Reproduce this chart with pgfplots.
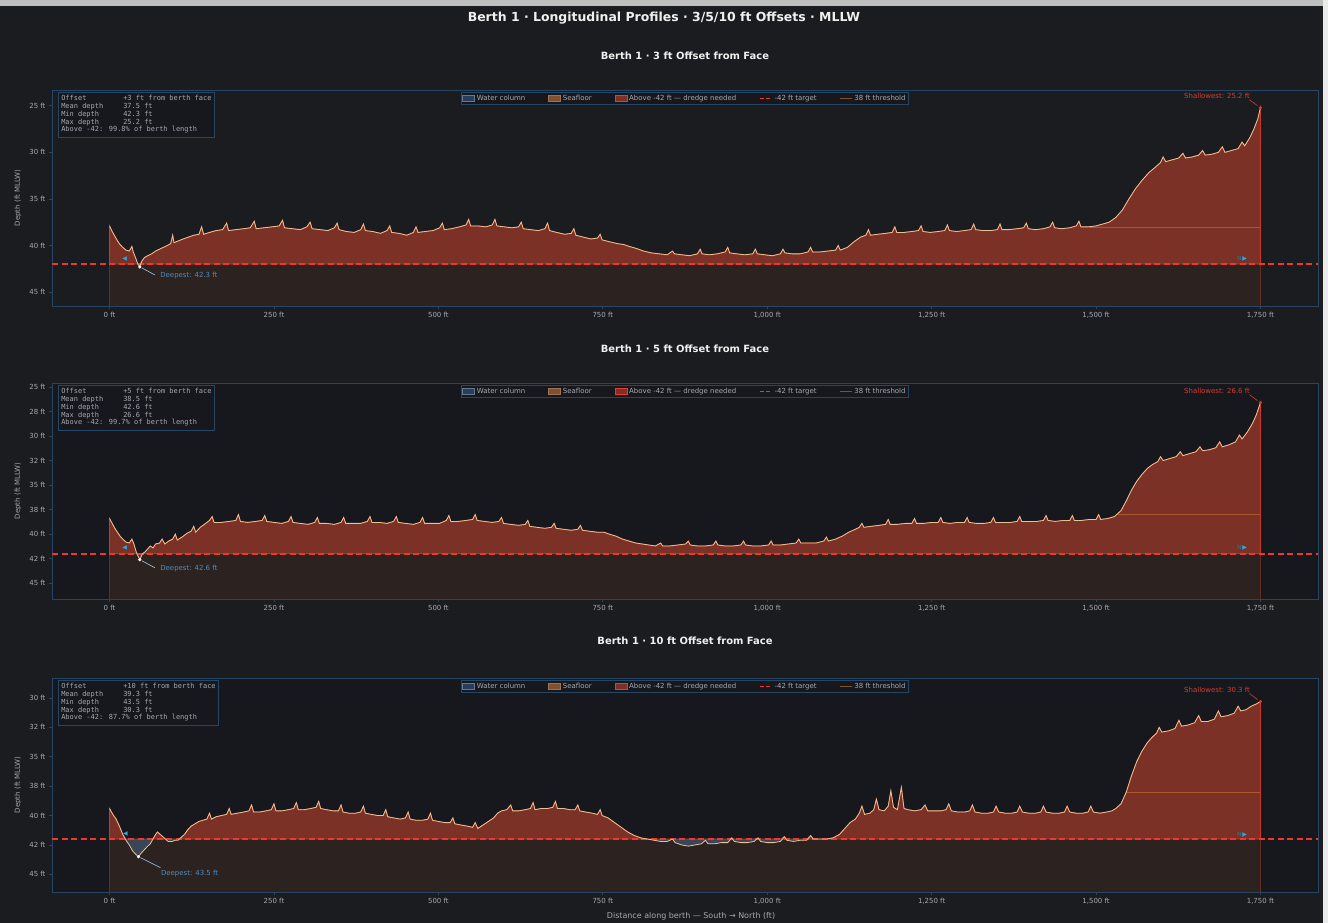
\documentclass[border=0pt]{standalone}
\usepackage{fontspec}
\setmainfont{DejaVu Sans}
\newfontfamily\monofont{DejaVu Sans Mono}
\usepackage{pgfplots}
\usepackage{pgfplotstable}
\pgfplotsset{compat=1.18}
\usepgfplotslibrary{fillbetween}

\definecolor{figbg}{RGB}{27,28,32}
\definecolor{axbg}{RGB}{22,24,29}
\definecolor{frame}{RGB}{38,70,100}
\definecolor{tickt}{RGB}{165,170,176}
\definecolor{titlec}{RGB}{240,240,240}
\definecolor{dredge}{RGB}{124,49,38}
\definecolor{dredgeedge}{RGB}{205,55,42}
\definecolor{seab}{RGB}{44,34,31}
\definecolor{seabedge}{RGB}{100,45,36}
\definecolor{waterc}{RGB}{58,70,86}
\definecolor{seaf}{RGB}{228,196,150}
\definecolor{tgtred}{RGB}{240,55,45}
\definecolor{thr}{RGB}{230,140,60}
\definecolor{deepc}{RGB}{80,140,190}
\definecolor{shalc}{RGB}{215,60,50}
\definecolor{navc}{RGB}{40,170,225}
\definecolor{legwater}{RGB}{40,62,92}
\definecolor{legsea}{RGB}{130,80,45}

\pgfplotstableread{
x d
0 37.9
4 38.5
8 39.0
12 39.5
16 39.9
20 40.2
25 40.5
30 40.6
34 40.1
36 40.7
40 41.4
43 42.0
46 42.3
49 41.7
53 41.3
58 41.1
64 40.9
70 40.6
76 40.4
82 40.2
88 40.0
93 39.8
96 38.9
98 39.7
105 39.5
112 39.3
120 39.1
128 38.9
136 38.8
140 38.0
143 38.8
152 38.6
162 38.4
172 38.3
178 37.6
181 38.4
192 38.3
204 38.2
214 38.1
220 37.4
223 38.2
235 38.1
247 38.0
258 37.9
263 37.3
266 38.1
278 38.2
290 38.3
300 38.0
305 37.5
308 38.2
320 38.3
332 38.4
342 38.1
346 37.6
349 38.3
360 38.5
372 38.6
382 38.3
386 37.7
389 38.4
400 38.5
412 38.7
422 38.4
426 37.9
429 38.6
440 38.7
452 38.9
462 38.6
466 38.0
469 38.6
480 38.5
492 38.4
502 38.1
506 37.6
509 38.3
520 38.2
532 38.0
542 37.8
546 37.2
549 37.9
560 37.9
572 38.0
582 37.8
586 37.2
589 37.9
600 38.0
612 38.1
622 38.0
626 37.5
629 38.2
640 38.3
652 38.4
662 38.2
666 37.6
669 38.4
680 38.6
692 38.8
702 38.7
706 38.2
709 38.9
720 39.1
732 39.3
742 39.2
746 38.8
749 39.4
760 39.6
772 39.8
782 39.9
790 40.1
800 40.3
812 40.6
824 40.8
836 40.9
848 41.0
856 40.6
859 40.9
870 41.0
882 41.1
894 40.9
898 40.4
901 40.9
912 41.0
924 40.9
936 40.7
940 40.2
943 40.8
954 40.9
966 41.0
978 40.9
982 40.4
985 40.9
996 41.0
1008 41.1
1020 40.9
1024 40.4
1027 40.8
1038 40.9
1050 40.9
1062 40.7
1066 40.2
1069 40.7
1080 40.7
1092 40.6
1104 40.5
1108 40.0
1111 40.5
1122 40.2
1132 39.6
1142 39.1
1150 38.9
1154 38.3
1157 38.9
1168 38.8
1180 38.7
1190 38.6
1194 38.0
1197 38.6
1208 38.6
1220 38.5
1230 38.4
1234 37.9
1237 38.5
1248 38.6
1260 38.5
1270 38.4
1274 37.8
1277 38.4
1288 38.5
1300 38.4
1310 38.3
1314 37.7
1317 38.3
1328 38.4
1340 38.4
1350 38.3
1354 37.7
1357 38.3
1368 38.3
1380 38.2
1390 38.1
1394 37.6
1397 38.2
1408 38.3
1420 38.2
1430 38.0
1434 37.5
1437 38.1
1448 38.2
1460 38.1
1470 37.9
1474 37.4
1477 38.0
1488 38.0
1500 37.9
1510 37.7
1520 37.5
1530 37.0
1540 36.2
1550 35.0
1560 33.9
1570 33.0
1580 32.2
1590 31.6
1598 31.1
1602 30.5
1606 31.0
1616 30.8
1626 30.6
1632 30.1
1636 30.6
1646 30.5
1656 30.3
1662 29.8
1666 30.3
1676 30.2
1686 30.0
1692 29.4
1696 30.0
1706 29.8
1716 29.6
1722 28.9
1726 29.3
1734 28.4
1740 27.5
1746 26.4
1750 25.2
}\pA

\pgfplotstableread{
x d
0 38.4
4 38.9
8 39.4
12 39.8
16 40.2
20 40.5
25 40.8
30 40.9
34 40.5
37 41.0
41 41.9
46 42.6
50 42.0
54 41.8
58 41.5
62 41.2
66 41.4
70 41.0
76 40.9
80 40.5
84 41.0
90 40.7
96 40.5
100 40.0
103 40.6
110 40.3
118 39.9
124 39.7
128 39.2
131 39.8
138 39.3
146 38.9
152 38.6
156 38.2
159 38.8
170 38.8
182 38.7
192 38.6
196 38.0
199 38.7
210 38.8
222 38.7
232 38.6
236 38.1
239 38.7
250 38.8
262 38.9
272 38.7
276 38.2
279 38.8
290 38.9
302 39.0
312 38.8
316 38.3
319 38.9
330 38.9
342 39.0
352 38.8
356 38.3
359 38.9
370 38.9
382 38.9
392 38.7
396 38.2
399 38.8
410 38.8
422 38.9
432 38.7
436 38.2
439 38.8
450 38.9
462 39.0
472 38.8
476 38.3
479 38.9
490 38.9
502 38.9
512 38.6
516 38.1
519 38.7
530 38.7
542 38.6
552 38.5
556 38.0
559 38.6
570 38.7
582 38.8
592 38.7
596 38.3
599 38.9
610 39.0
622 39.1
632 39.0
636 38.6
639 39.2
650 39.3
662 39.4
672 39.3
676 38.9
679 39.4
690 39.5
702 39.6
712 39.5
716 39.1
719 39.6
730 39.7
742 39.8
752 39.8
760 40.0
770 40.2
780 40.5
790 40.7
800 40.9
810 41.0
820 41.1
830 41.2
838 40.9
841 41.2
852 41.2
864 41.1
876 41.0
880 40.7
883 41.1
894 41.2
906 41.2
918 41.1
922 40.7
925 41.1
936 41.2
948 41.2
960 41.1
964 40.7
967 41.1
978 41.2
990 41.2
1002 41.1
1006 40.7
1009 41.1
1020 41.1
1032 41.0
1044 40.9
1048 40.5
1051 40.9
1062 40.9
1074 40.9
1086 40.7
1090 40.3
1093 40.7
1104 40.5
1114 40.2
1124 39.8
1134 39.5
1140 39.3
1144 38.9
1147 39.3
1158 39.2
1170 39.1
1180 39.0
1184 38.5
1187 39.0
1198 39.0
1210 38.9
1220 38.9
1224 38.4
1227 38.9
1238 38.9
1250 38.8
1260 38.8
1264 38.3
1267 38.8
1278 38.9
1290 38.8
1300 38.8
1304 38.3
1307 38.8
1318 38.9
1330 38.9
1340 38.8
1344 38.3
1347 38.8
1358 38.8
1370 38.8
1380 38.7
1384 38.2
1387 38.7
1398 38.7
1410 38.7
1420 38.6
1424 38.1
1427 38.6
1438 38.7
1450 38.6
1460 38.6
1464 38.1
1467 38.6
1478 38.6
1490 38.5
1500 38.5
1504 38.0
1507 38.5
1518 38.4
1528 38.2
1538 37.6
1546 36.6
1554 35.5
1562 34.6
1570 33.9
1578 33.3
1586 32.9
1594 32.6
1598 32.1
1602 32.5
1612 32.3
1622 32.1
1628 31.6
1632 32.0
1642 31.8
1652 31.6
1658 31.1
1662 31.5
1672 31.4
1682 31.2
1688 30.6
1692 31.1
1702 30.9
1712 30.6
1718 29.9
1722 30.3
1730 29.6
1738 28.7
1744 27.8
1750 26.6
}\pB

\pgfplotstableread{
x d
0 39.4
5 39.9
10 40.3
15 40.9
20 41.6
25 42.1
30 42.5
35 43.0
40 43.3
44 43.5
48 43.2
53 42.9
58 42.6
62 42.4
66 42.0
70 41.6
73 41.4
77 41.6
81 41.8
85 42.0
89 42.2
95 42.2
100 42.1
104 42.1
108 41.9
114 41.6
119 41.2
124 40.9
130 40.7
136 40.5
142 40.4
148 40.3
152 39.8
155 40.3
162 40.1
170 40.0
178 39.9
182 39.4
185 39.9
194 39.8
204 39.7
212 39.6
216 39.1
219 39.7
228 39.7
238 39.6
246 39.5
250 39.0
253 39.6
262 39.6
272 39.5
280 39.4
284 38.9
287 39.5
296 39.5
306 39.4
314 39.3
318 38.8
321 39.4
330 39.5
340 39.6
348 39.6
352 39.1
355 39.7
364 39.8
374 39.8
382 39.7
386 39.2
389 39.8
398 39.9
408 40.0
416 40.0
420 39.5
423 40.1
432 40.2
442 40.3
450 40.2
454 39.7
457 40.3
466 40.4
476 40.4
484 40.3
488 39.8
491 40.4
500 40.5
510 40.6
518 40.6
522 40.2
525 40.7
534 40.8
544 40.9
552 41.0
556 40.6
560 41.1
568 40.8
576 40.5
584 40.2
590 39.8
596 39.6
604 39.5
610 39.1
613 39.6
622 39.6
632 39.5
640 39.4
644 38.9
647 39.5
656 39.4
666 39.4
674 39.3
678 38.8
681 39.4
690 39.4
700 39.5
708 39.5
712 39.1
715 39.6
724 39.7
734 39.8
742 39.9
746 39.5
749 40.0
758 40.2
768 40.6
778 41.0
788 41.4
798 41.7
808 41.9
818 42.0
828 42.1
838 42.2
848 42.2
856 42.0
860 42.3
870 42.5
880 42.6
890 42.5
900 42.4
906 42.1
910 42.4
920 42.4
930 42.3
940 42.3
946 41.9
950 42.2
960 42.3
970 42.3
980 42.2
986 41.9
990 42.2
1000 42.3
1010 42.3
1020 42.2
1026 41.8
1030 42.1
1040 42.2
1050 42.1
1060 42.1
1066 41.7
1070 42.0
1080 42.0
1090 42.0
1100 41.9
1110 41.6
1118 41.1
1126 40.6
1134 40.3
1140 39.8
1144 39.2
1148 39.9
1156 39.8
1162 39.5
1166 38.6
1170 39.5
1178 39.6
1184 39.2
1188 37.9
1192 39.3
1198 39.5
1204 37.6
1208 39.4
1214 39.5
1224 39.6
1234 39.5
1240 39.1
1244 39.6
1254 39.6
1264 39.6
1272 39.5
1276 39.0
1280 39.6
1290 39.7
1300 39.7
1308 39.6
1312 39.1
1316 39.7
1326 39.8
1336 39.8
1344 39.7
1348 39.2
1352 39.7
1362 39.8
1372 39.8
1380 39.7
1384 39.2
1388 39.7
1398 39.8
1408 39.8
1416 39.7
1420 39.2
1424 39.7
1434 39.8
1444 39.8
1452 39.7
1456 39.2
1460 39.7
1470 39.8
1480 39.8
1488 39.7
1492 39.2
1496 39.7
1506 39.8
1516 39.7
1524 39.6
1530 39.4
1538 39.0
1546 38.0
1554 36.6
1562 35.4
1570 34.5
1578 33.8
1586 33.3
1592 33.0
1596 32.5
1600 32.9
1610 32.8
1620 32.6
1626 31.9
1630 32.4
1640 32.3
1650 32.1
1656 31.5
1660 32.0
1670 32.0
1680 31.8
1686 31.1
1690 31.6
1700 31.5
1710 31.3
1716 30.7
1720 31.1
1728 31.0
1736 30.7
1744 30.5
1750 30.3
}\pC

\pgfplotsset{
  prof/.style={
    set layers,
    scale only axis, width=1266bp,
    xmin=-87.5, xmax=1837.5, y dir=reverse,
    axis background/.style={fill=axbg},
    axis line style={draw=frame, line width=0.9bp},
    tick style={draw=frame, line width=0.7bp},
    major tick length=3bp, tick align=outside,
    xtick pos=bottom, ytick pos=left,
    xtick={0,250,500,750,1000,1250,1500,1750},
    xticklabels={0 ft,250 ft,500 ft,750 ft,{1,000 ft},{1,250 ft},{1,500 ft},{1,750 ft}},
    ticklabel style={font=\fontsize{7}{8}\selectfont, text=tickt},
    /pgf/number format/assume math mode=true,
    ylabel={Depth (ft MLLW)},
    every axis y label/.style={at={(axis description cs:0,0.5)}, xshift=-34bp, rotate=90, anchor=center, font=\fontsize{7}{8}\selectfont, text=tickt},
    every axis x label/.style={at={(axis description cs:0.5,0)}, anchor=center, xshift=6bp, yshift=-24bp, font=\fontsize{8}{9}\selectfont, text=tickt},
    title style={at={(axis description cs:0.5,1)}, anchor=center, yshift=28bp, font=\bfseries\fontsize{10}{12}\selectfont, text=titlec},
    legend style={at={(0.5,1)}, anchor=north, yshift=-2bp, draw=frame, fill=axbg, line width=0.6bp, inner sep=1.2bp, font=\fontsize{7}{8}\selectfont, text=tickt, /tikz/every even column/.append style={column sep=21bp}, nodes={inner ysep=1.5bp}},
    legend columns=5,
    legend image post style={xscale=0.7},
  },
}
\tikzset{
  statbox/.style={anchor=north west, draw=frame, fill=axbg, line width=0.6bp, inner sep=3bp, font=\monofont\fontsize{7}{7.8}\selectfont, text=tickt, align=left},
}

\newcommand{\legendset}{%
  \addlegendimage{area legend, fill=legwater, draw=legwater!70!white}
  \addlegendentry{Water column}
  \addlegendimage{area legend, fill=legsea, draw=legsea!80!white}
  \addlegendentry{Seafloor}
  \addlegendimage{area legend, fill=dredge, draw=tgtred}
  \addlegendentry{Above -42 ft — dredge needed}
  \addlegendimage{tgtred, line width=1.4bp, dash pattern=on 4bp off 2.5bp}
  \addlegendentry{-42 ft target}
  \addlegendimage{thr, opacity=0.5, line width=0.8bp}
  \addlegendentry{38 ft threshold}
}

% #1 table, #2 x where the seafloor rises above 38 ft near the north end
\newcommand{\layers}[2]{%
  \addplot[draw=none, forget plot, name path=sea] table[x=x,y=d] {#1};
  \addplot[draw=none, forget plot, name path=seaup] table[x=x,y expr={min(\thisrow{d},42)}] {#1};
  \addplot[draw=none, forget plot, name path=seadn] table[x=x,y expr={max(\thisrow{d},42)}] {#1};
  \addplot[draw=none, forget plot, name path=tgt] coordinates {(0,42) (1750,42)};
  \addplot[draw=none, forget plot, name path=bot] coordinates {(0,48) (1750,48)};
  \addplot[fill=seab, draw=seabedge, line width=0.6bp, forget plot] fill between[of=sea and bot];
  \addplot[fill=waterc, draw=none, forget plot] fill between[of=seadn and tgt];
  \addplot[fill=dredge, draw=dredgeedge, line width=0.7bp, forget plot] fill between[of=seaup and tgt];
  \addplot[tgtred, opacity=1, line width=1.4bp, dash pattern=on 6bp off 3.5bp, forget plot] coordinates {(-87.5,42) (1837.5,42)};
  \addplot[thr, draw opacity=0.45, line width=0.6bp, forget plot] coordinates {(#2,38) (1750,38)};
  \addplot[seaf, draw opacity=1, line width=0.8bp, forget plot] table[x=x,y=d] {#1};
}

\begin{document}
\begin{tikzpicture}
\path (0,0) rectangle (1328bp,923bp);
\fill[black!25] (0,917bp) rectangle (1328bp,923bp);
\fill[black!8] (1323bp,0) rectangle (1328bp,923bp);

\node[font=\bfseries\fontsize{12.5}{14}\selectfont, text=titlec] at (664bp,905bp) {Berth 1 · Longitudinal Profiles · 3/5/10 ft Offsets · MLLW};

% ---------- Panel 1 ----------
\begin{axis}[prof, at={(52bp,617bp)}, anchor=south west, height=216bp,
  ymin=23.3, ymax=46.5, ytick={25,30,35,40,45},
  yticklabels={25 ft,30 ft,35 ft,40 ft,45 ft},
  title={Berth 1 · 3 ft Offset from Face}]
\begin{pgfonlayer}{axis background}
\fill[figbg] ([shift={(-52bp,-617bp)}]axis description cs:0,0) rectangle ([shift={(1271bp,300bp)}]axis description cs:0,0);
\end{pgfonlayer}
\layers{\pA}{1490}
\addplot[only marks, mark=*, mark size=1.4bp, white, forget plot] coordinates {(46,42.3)};
\addplot[only marks, mark=*, mark size=1.4bp, shalc, forget plot] coordinates {(1750,25.2)};
\legendset
\draw[deepc!60!white, line width=0.7bp] (axis cs:46,42.3) ++(2bp,-1bp) -- ++(13bp,-7bp);
\node[anchor=west, text=deepc, font=\fontsize{7}{8}\selectfont] at (axis cs:46,42.3) [xshift=17bp, yshift=-9bp] {Deepest: 42.3 ft};
\draw[shalc, line width=0.6bp] (axis cs:1750,25.2) ++(-3bp,2bp) -- ++(-8bp,6bp);
\node[anchor=east, text=shalc, font=\fontsize{7}{8}\selectfont] at (axis cs:1750,25.2) [xshift=-7bp, yshift=12bp] {Shallowest: 25.2 ft};
\node[text=navc, font=\fontsize{6}{6}\selectfont] at (axis cs:23,41.4) {◀};
\node[font=\fontsize{6}{6}\selectfont] at (axis cs:1722,41.4) {\textcolor{frame!50!navc}{N}\,\textcolor{navc}{▶}};
\node[statbox] at (axis description cs:0,1) [xshift=6bp, yshift=-2bp] {%
\begin{tabular}{@{}p{62bp}@{}l@{}}
Offset & +3 ft from berth face\\
Mean depth & 37.5 ft\\
Min depth & 42.3 ft\\
Max depth & 25.2 ft\\
\multicolumn{2}{@{}l@{}}{Above -42: 99.8\% of berth length}
\end{tabular}};
\end{axis}

% ---------- Panel 2 ----------
\begin{axis}[prof, at={(52bp,324bp)}, anchor=south west, height=216bp,
  ymin=24.6, ymax=46.6, ytick={25,27.5,30,32.5,35,37.5,40,42.5,45},
  yticklabels={25 ft,28 ft,30 ft,32 ft,35 ft,38 ft,40 ft,42 ft,45 ft},
  title={Berth 1 · 5 ft Offset from Face}]
\layers{\pB}{1533}
\addplot[only marks, mark=*, mark size=1.4bp, white, forget plot] coordinates {(46,42.6)};
\addplot[only marks, mark=*, mark size=1.4bp, shalc, forget plot] coordinates {(1750,26.6)};
\legendset
\draw[deepc!60!white, line width=0.7bp] (axis cs:46,42.6) ++(2bp,-1bp) -- ++(13bp,-7bp);
\node[anchor=west, text=deepc, font=\fontsize{7}{8}\selectfont] at (axis cs:46,42.6) [xshift=17bp, yshift=-9bp] {Deepest: 42.6 ft};
\draw[shalc, line width=0.6bp] (axis cs:1750,26.6) ++(-3bp,2bp) -- ++(-8bp,6bp);
\node[anchor=east, text=shalc, font=\fontsize{7}{8}\selectfont] at (axis cs:1750,26.6) [xshift=-7bp, yshift=12bp] {Shallowest: 26.6 ft};
\node[text=navc, font=\fontsize{6}{6}\selectfont] at (axis cs:23,41.4) {◀};
\node[font=\fontsize{6}{6}\selectfont] at (axis cs:1722,41.4) {\textcolor{frame!50!navc}{N}\,\textcolor{navc}{▶}};
\node[statbox] at (axis description cs:0,1) [xshift=6bp, yshift=-2bp] {%
\begin{tabular}{@{}p{62bp}@{}l@{}}
Offset & +5 ft from berth face\\
Mean depth & 38.5 ft\\
Min depth & 42.6 ft\\
Max depth & 26.6 ft\\
\multicolumn{2}{@{}l@{}}{Above -42: 99.7\% of berth length}
\end{tabular}};
\end{axis}

% ---------- Panel 3 ----------
\begin{axis}[prof, at={(52bp,31bp)}, anchor=south west, height=214bp,
  ymin=28.3, ymax=46.5, ytick={30,32.5,35,37.5,40,42.5,45},
  yticklabels={30 ft,32 ft,35 ft,38 ft,40 ft,42 ft,45 ft},
  title style={yshift=3bp},
  title={Berth 1 · 10 ft Offset from Face},
  xlabel={Distance along berth — South → North (ft)}]
\layers{\pC}{1546}
\addplot[only marks, mark=*, mark size=1.4bp, white, forget plot] coordinates {(44,43.5)};
\addplot[only marks, mark=*, mark size=1.4bp, shalc, forget plot] coordinates {(1750,30.3)};
\legendset
\draw[deepc!60!white, line width=0.7bp] (axis cs:44,43.5) ++(2bp,-1bp) -- ++(20bp,-10bp);
\node[anchor=west, text=deepc, font=\fontsize{7}{8}\selectfont] at (axis cs:44,43.5) [xshift=19bp, yshift=-17bp] {Deepest: 43.5 ft};
\draw[shalc, line width=0.6bp] (axis cs:1750,30.3) ++(-3bp,2bp) -- ++(-8bp,6bp);
\node[anchor=east, text=shalc, font=\fontsize{7}{8}\selectfont] at (axis cs:1750,30.3) [xshift=-7bp, yshift=12bp] {Shallowest: 30.3 ft};
\node[text=navc, font=\fontsize{6}{6}\selectfont] at (axis cs:24,41.6) {◀};
\node[font=\fontsize{6}{6}\selectfont] at (axis cs:1722,41.6) {\textcolor{frame!50!navc}{N}\,\textcolor{navc}{▶}};
\node[statbox] at (axis description cs:0,1) [xshift=6bp, yshift=-2bp] {%
\begin{tabular}{@{}p{62bp}@{}l@{}}
Offset & +10 ft from berth face\\
Mean depth & 39.3 ft\\
Min depth & 43.5 ft\\
Max depth & 30.3 ft\\
\multicolumn{2}{@{}l@{}}{Above -42: 87.7\% of berth length}
\end{tabular}};
\end{axis}

\pgfresetboundingbox
\path[use as bounding box] (0,0) rectangle (1328bp,923bp);
\end{tikzpicture}
\end{document}
